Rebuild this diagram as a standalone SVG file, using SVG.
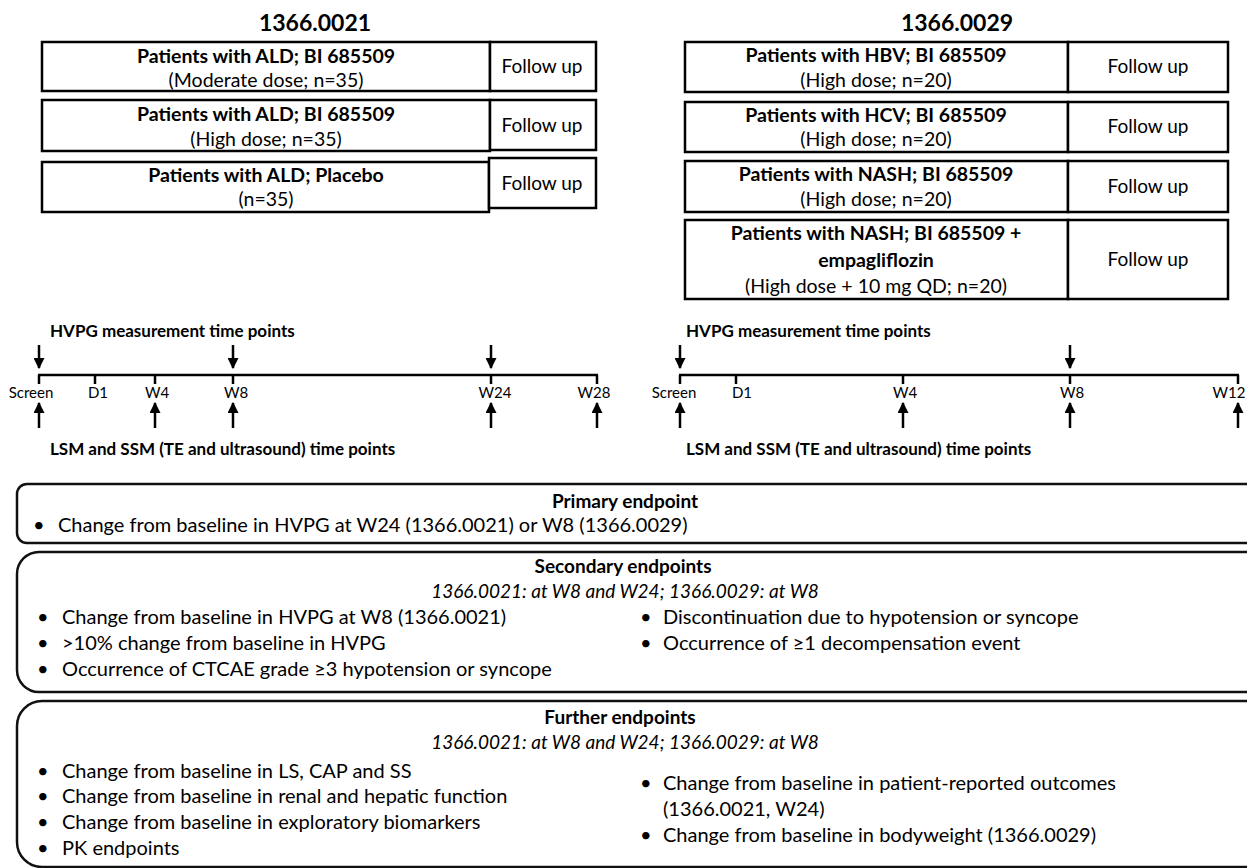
<svg xmlns="http://www.w3.org/2000/svg" width="1247" height="868" viewBox="0 0 1247 868">
<defs>
<style>
text{font-family:Lato,"Liberation Sans",Arial,sans-serif;fill:#000}
.t{font-size:23px;font-weight:bold;text-anchor:middle}
.b{font-size:19.5px;font-weight:bold;text-anchor:middle}
.r{font-size:19.5px;text-anchor:middle}
.f{font-size:19px;text-anchor:middle}
.lab{font-size:15px;text-anchor:middle}
.hd{font-size:17px;font-weight:bold}
.box{fill:#fff;stroke:#000;stroke-width:2.5}
.ep{fill:none;stroke:#111;stroke-width:2.5}
.et{font-size:20px}
.eh{font-size:19px;font-weight:bold;text-anchor:middle}
.ei{font-size:19px;font-style:italic;text-anchor:middle}
.ax{stroke:#000;stroke-width:2.5;fill:none}
.ar{stroke:#000;stroke-width:2.5;fill:none}
</style>
<marker id="ah" viewBox="0 0 10 10" refX="9" refY="5" markerWidth="4.4" markerHeight="4.4" orient="auto" markerUnits="strokeWidth">
<path d="M0,0 L10,5 L0,10 z" fill="#000"/>
</marker>
</defs>

<g id="title-0021"><text class="t" x="315" y="31">1366.0021</text></g>
<g id="title-0029"><text class="t" x="957" y="31">1366.0029</text></g>

<g id="l1">
<rect class="box" x="42" y="42" width="448" height="49"/>
<rect class="box" x="490" y="42" width="106" height="49"/>
<text class="b" x="266" y="63">Patients with ALD; BI 685509</text>
<text class="r" x="266" y="87">(Moderate dose; n=35)</text>
<text class="f" x="542" y="73">Follow up</text>
</g>
<g id="l2">
<rect class="box" x="42" y="100" width="448" height="51"/>
<rect class="box" x="490" y="100" width="106" height="50"/>
<text class="b" x="266" y="121">Patients with ALD; BI 685509</text>
<text class="r" x="266" y="146">(High dose; n=35)</text>
<text class="f" x="542" y="132">Follow up</text>
</g>
<g id="l3">
<rect class="box" x="42" y="162" width="447" height="50"/>
<rect class="box" x="489" y="158" width="107" height="50"/>
<text class="b" x="266" y="182">Patients with ALD; Placebo</text>
<text class="r" x="266" y="206">(n=35)</text>
<text class="f" x="542" y="190">Follow up</text>
</g>

<g id="r1">
<rect class="box" x="685" y="42" width="383" height="50"/>
<rect class="box" x="1068" y="42" width="160" height="50"/>
<text class="b" x="876" y="62">Patients with HBV; BI 685509</text>
<text class="r" x="876" y="87">(High dose; n=20)</text>
<text class="f" x="1148" y="73">Follow up</text>
</g>
<g id="r2">
<rect class="box" x="685" y="102" width="383" height="50"/>
<rect class="box" x="1068" y="102" width="160" height="50"/>
<text class="b" x="876" y="122">Patients with HCV; BI 685509</text>
<text class="r" x="876" y="146">(High dose; n=20)</text>
<text class="f" x="1148" y="133">Follow up</text>
</g>
<g id="r3">
<rect class="box" x="685" y="161" width="383" height="51"/>
<rect class="box" x="1068" y="161" width="160" height="51"/>
<text class="b" x="876" y="181">Patients with NASH; BI 685509</text>
<text class="r" x="876" y="206">(High dose; n=20)</text>
<text class="f" x="1148" y="193">Follow up</text>
</g>
<g id="r4">
<rect class="box" x="685" y="220" width="383" height="79"/>
<rect class="box" x="1068" y="220" width="160" height="79"/>
<text class="b" x="876" y="240">Patients with NASH; BI 685509 +</text>
<text class="b" x="876" y="267">empagliflozin</text>
<text class="r" x="876" y="293">(High dose + 10 mg QD; n=20)</text>
<text class="f" x="1148" y="266">Follow up</text>
</g>

<g id="timeline-0021">
<text class="hd" x="50" y="337">HVPG measurement time points</text>
<text class="hd" x="50" y="455">LSM and SSM (TE and ultrasound) time points</text>
<text class="lab" x="31" y="398">Screen</text>
<text class="lab" x="98" y="398">D1</text>
<text class="lab" x="157" y="398">W4</text>
<text class="lab" x="236" y="398">W8</text>
<text class="lab" x="495" y="398">W24</text>
<text class="lab" x="594" y="398">W28</text>
</g>
<g id="timeline-0029">
<text class="hd" x="686" y="337">HVPG measurement time points</text>
<text class="hd" x="686" y="455">LSM and SSM (TE and ultrasound) time points</text>
<text class="lab" x="674" y="398">Screen</text>
<text class="lab" x="742" y="398">D1</text>
<text class="lab" x="905" y="398">W4</text>
<text class="lab" x="1072" y="398">W8</text>
<text class="lab" x="1229" y="398">W12</text>
</g>

<g id="connectors">
<path class="ax" d="M38,375 H598 M39,375 V384 M95,375 V384 M155,375 V384 M233,375 V384 M491,375 V384 M597,375 V384"/>
<path class="ax" d="M679,375 H1239 M680,375 V384 M736,375 V384 M903,375 V384 M1070,375 V384 M1238,375 V384"/>
<g class="ar" marker-end="url(#ah)">
<line x1="39" y1="345" x2="39" y2="368"/>
<line x1="233" y1="345" x2="233" y2="368"/>
<line x1="491" y1="345" x2="491" y2="368"/>
<line x1="39" y1="428" x2="39" y2="403"/>
<line x1="155" y1="428" x2="155" y2="403"/>
<line x1="233" y1="428" x2="233" y2="403"/>
<line x1="491" y1="428" x2="491" y2="403"/>
<line x1="597" y1="428" x2="597" y2="403"/>
<line x1="680" y1="345" x2="680" y2="368"/>
<line x1="1070" y1="345" x2="1070" y2="368"/>
<line x1="680" y1="428" x2="680" y2="403"/>
<line x1="903" y1="428" x2="903" y2="403"/>
<line x1="1070" y1="428" x2="1070" y2="403"/>
<line x1="1238" y1="428" x2="1238" y2="403"/>
</g>
</g>

<g id="primary">
<rect class="ep" x="17" y="484" width="1250" height="59" rx="10"/>
<text class="eh" x="625" y="508">Primary endpoint</text>
<text class="et" x="33" y="532">•</text>
<text class="et" x="58" y="532">Change from baseline in HVPG at W24 (1366.0021) or W8 (1366.0029)</text>
</g>

<g id="secondary">
<rect class="ep" x="17" y="552" width="1260" height="140" rx="22"/>
<text class="eh" x="623" y="573">Secondary endpoints</text>
<text class="ei" x="625" y="598">1366.0021: at W8 and W24; 1366.0029: at W8</text>
<text class="et" x="37" y="624">•</text>
<text class="et" x="62" y="624">Change from baseline in HVPG at W8 (1366.0021)</text>
<text class="et" x="37" y="650">•</text>
<text class="et" x="62" y="650">&gt;10% change from baseline in HVPG</text>
<text class="et" x="37" y="676">•</text>
<text class="et" x="62" y="676">Occurrence of CTCAE grade ≥3 hypotension or syncope</text>
<text class="et" x="640" y="624">•</text>
<text class="et" x="663" y="624">Discontinuation due to hypotension or syncope</text>
<text class="et" x="640" y="650">•</text>
<text class="et" x="663" y="650">Occurrence of ≥1 decompensation event</text>
</g>

<g id="further">
<rect class="ep" x="17" y="701" width="1260" height="166" rx="25"/>
<text class="eh" x="620" y="724">Further endpoints</text>
<text class="ei" x="625" y="749">1366.0021: at W8 and W24; 1366.0029: at W8</text>
<text class="et" x="37" y="778">•</text>
<text class="et" x="62" y="778">Change from baseline in LS, CAP and SS</text>
<text class="et" x="37" y="803">•</text>
<text class="et" x="62" y="803">Change from baseline in renal and hepatic function</text>
<text class="et" x="37" y="829">•</text>
<text class="et" x="62" y="829">Change from baseline in exploratory biomarkers</text>
<text class="et" x="37" y="855">•</text>
<text class="et" x="62" y="855">PK endpoints</text>
<text class="et" x="640" y="790">•</text>
<text class="et" x="663" y="790">Change from baseline in patient-reported outcomes</text>
<text class="et" x="663" y="816">(1366.0021, W24)</text>
<text class="et" x="640" y="842">•</text>
<text class="et" x="663" y="842">Change from baseline in bodyweight (1366.0029)</text>
</g>
</svg>
